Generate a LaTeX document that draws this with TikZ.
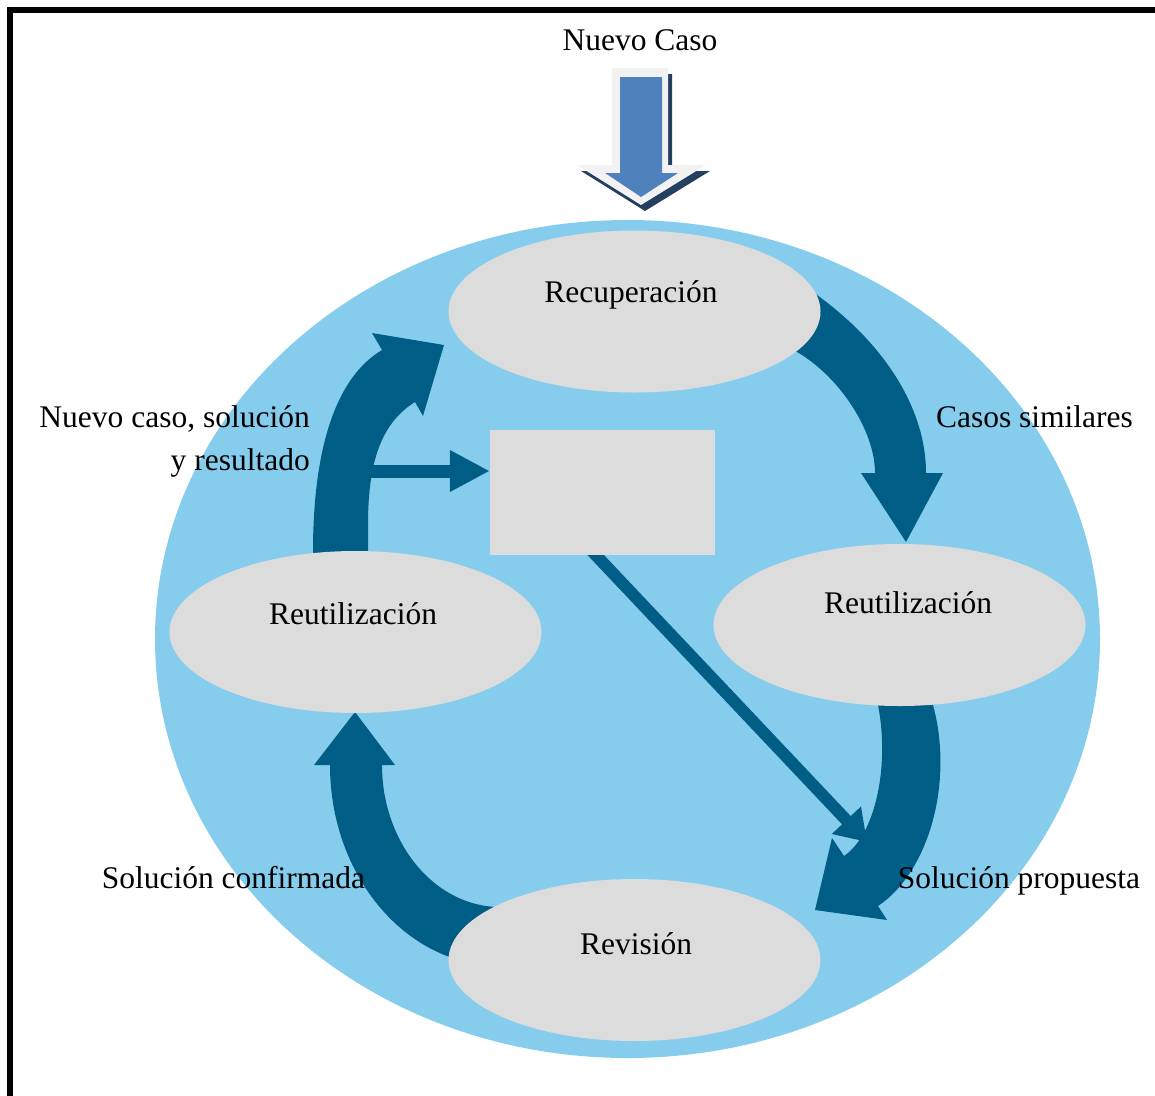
\documentclass[tikz,border=0pt]{standalone}
\usepackage{fontspec}
\setmainfont{Liberation Serif}
\usetikzlibrary{shapes.geometric,arrows.meta,backgrounds}

\definecolor{cbrsky}{RGB}{134,205,237}
\definecolor{cbrdark}{RGB}{0,94,134}
\definecolor{cbrgray}{RGB}{220,220,220}
\definecolor{cbrblue}{RGB}{79,129,189}
\definecolor{cbrshade}{RGB}{36,63,96}
\definecolor{cbrrim}{RGB}{242,242,242}

\begin{document}
\begin{tikzpicture}[x=1pt,y=-1pt,
  label text/.style={inner sep=0pt,font=\fontsize{31.5}{36}\selectfont},
  phase/.style={ellipse,fill=cbrgray,draw=none,inner sep=0pt,
                minimum width=372pt,minimum height=162pt},
  cyclearrow/.style={fill=cbrdark,draw=none},
  thinarrow/.style={draw=cbrdark,line width=13pt,
                    -{Triangle[length=40pt,width=39pt]}},
  diagarrow/.style={draw=cbrdark,line width=12pt,
                    -{Triangle[length=30pt,width=38pt]}}]
\useasboundingbox (0,0) rectangle (1155,1095);

% frame (top and left rules)
\draw[line width=6pt,miter limit=10] (10,1100) -- (10,10) -- (1160,10);

% incoming case arrow
\fill[cbrshade] (616,74) -- (672,74) -- (672,171) -- (710,171) -- (645,211)
  -- (581,171) -- (616,171) -- cycle;
\fill[cbrrim] (612,68) -- (668,68) -- (668,165) -- (706,165) -- (641,205)
  -- (577,165) -- (612,165) -- cycle;
\fill[cbrblue] (620,77) -- (662,77) -- (662,173) -- (678,173) -- (641,197)
  -- (605,173) -- (620,173) -- cycle;

% case base
\node[fill=cbrgray,inner sep=0pt,minimum width=225pt,minimum height=125pt]
  (store) at (602.5,492.5) {};

% phases
\node[phase] (recup) at (634.5,311.5) {};
\node[phase] (reuseR) at (899.5,625) {};
\node[phase] (reuseL) at (355.5,632) {};
\node[phase] (revis) at (634.5,960) {};

\coordinate (hstart) at (362,471);
\coordinate (dstart) at (590,549);
\coordinate (dend) at (867,842);

\begin{scope}[on background layer]
  % background disc
  \fill[cbrsky] (627.5,639) ellipse [x radius=472.5, y radius=419];

  % cycle arrows
  \fill[cyclearrow] (801,283) -- (817,295) .. controls (886,345) and (926,410) .. (926,473)
    -- (943,473) -- (906,542) -- (861,473) -- (875,473)
    .. controls (875,431) and (840,377) .. (797,352) -- (780,342) -- cycle;

  \fill[cyclearrow] (933,690) -- (933,705) .. controls (954,782) and (929,872) .. (878,906)
    -- (887,920) -- (815,910) -- (832,838) -- (844,856)
    .. controls (875,835) and (890,767) .. (878,705) -- (878,690) -- cycle;

  \fill[cyclearrow] (314,765) -- (355,712) -- (395,765) -- (382,765)
    .. controls (382,843) and (435,907) .. (500,907) -- (515,907) -- (520,966)
    -- (500,966) .. controls (406,966) and (330,876) .. (330,765) -- cycle;

  \fill[cyclearrow] (313,570) -- (313,552) .. controls (313,450) and (335,378) .. (382,350)
    -- (372,333) -- (444,345) -- (423,416) -- (415,402)
    .. controls (383,422) and (368.7,458) .. (368,520) -- (368,570) -- cycle;

  % links with the case base
  \draw[thinarrow] (hstart) -- (hstart -| store.west);
  \draw[diagarrow] (dstart) -- (dend);
\end{scope}

\node[label text,anchor=base] (trecup) at (631,302) {Recuperación};
\node[label text,anchor=base] (treuseR) at (908,613) {Reutilización};
\node[label text,anchor=base] (treuseL) at (353,624) {Reutilización};
\node[label text,anchor=base] (trevis) at (636,954) {Revisión};

% edge labels
\node[label text,anchor=base] (tnew) at (640,50) {Nuevo Caso};
\node[label text,anchor=base] (tsim) at (1034.5,427) {Casos similares};
\node[label text,anchor=base east] (tret1) at (310,427) {Nuevo caso, solución};
\node[label text,anchor=base east] (tret2) at (310,470) {y resultado};
\node[label text,anchor=base] (tconf) at (233.5,888) {Solución confirmada};
\node[label text,anchor=base] (tprop) at (1019,888) {Solución propuesta};
\end{tikzpicture}
\end{document}
